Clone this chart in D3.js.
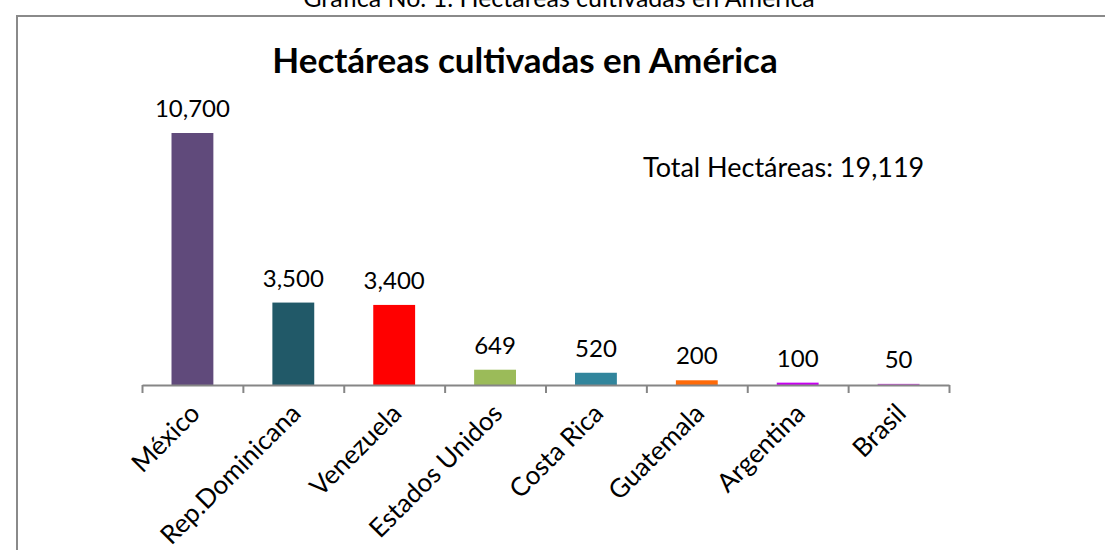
<!DOCTYPE html>
<html>
<head>
<meta charset="utf-8">
<script src="https://cdn.jsdelivr.net/npm/d3@7"></script>
<style>
  body { margin: 0; background: #fff; }
  svg { display: block; }
</style>
</head>
<body>
<div id="chart"></div>
<script>
// data
var paises = ["México", "Rep.Dominicana", "Venezuela", "Estados Unidos", "Costa Rica", "Guatemala", "Argentina", "Brasil"];
var hectareas = [10700, 3500, 3400, 649, 520, 200, 100, 50];
var colores = ["#604a7b", "#215968", "#ff0000", "#9bbb59", "#31859c", "#ff6a08", "#c800f0", "#cc55dd"];
var totalTexto = "Total Hectáreas: 19,119";

var W = 1105, H = 550;
var axisY = 385, left = 142, right = 949;

var svg = d3.select("#chart").append("svg")
    .attr("width", W)
    .attr("height", H);

// caption above the frame (cut off at the top, as in the source)
svg.append("text")
    .attr("x", 559)
    .attr("y", 7)
    .attr("text-anchor", "middle")
    .style("font-family", "Lato, sans-serif")
    .style("font-size", "25px")
    .text("Gráfica No. 1. Hectáreas cultivadas en América");

// chart frame
svg.append("rect")
    .attr("x", 17)
    .attr("y", 16)
    .attr("width", W + 20)
    .attr("height", H + 20)
    .attr("fill", "none")
    .attr("stroke", "#8a8a8a")
    .attr("stroke-width", 2);

var x = d3.scaleBand()
    .domain(paises)
    .range([left, right]);

var y = d3.scaleLinear()
    .domain([0, 12000])
    .range([axisY, axisY - 252 / 10700 * 12000]);

var barW = x.bandwidth() * 0.415;

// title
svg.append("text")
    .attr("x", 525)
    .attr("y", 73)
    .attr("text-anchor", "middle")
    .style("font-family", "Lato, sans-serif")
    .style("font-weight", "bold")
    .style("font-size", "35px")
    .text("Hectáreas cultivadas en América");

svg.append("text")
    .attr("x", 643)
    .attr("y", 177)
    .style("font-family", "Lato, sans-serif")
    .style("font-size", "27px")
    .text(totalTexto);

// bars
svg.append("g")
  .selectAll("rect")
  .data(paises)
  .enter()
  .append("rect")
    .attr("x", function(d) { return x(d) + (x.bandwidth() - barW) / 2; })
    .attr("width", barW)
    .attr("y", function(d, i) { return y(hectareas[i]); })
    .attr("height", function(d, i) { return axisY - y(hectareas[i]); })
    .attr("fill", function(d, i) { return colores[i]; });

// value labels
svg.append("g")
  .selectAll("text")
  .data(paises)
  .enter()
  .append("text")
    .attr("x", function(d) { return x(d) + x.bandwidth() / 2; })
    .attr("y", function(d, i) { return y(hectareas[i]) - 16; })
    .attr("text-anchor", "middle")
    .style("font-family", "Lato, sans-serif")
    .style("font-size", "24px")
    .text(function(d, i) { return d3.format(",")(hectareas[i]); });

// axis: ticks on the band edges
var edges = d3.scaleLinear().domain([0, paises.length]).range([left, right]);
var axis = svg.append("g")
    .attr("transform", "translate(0," + axisY + ")")
    .call(d3.axisBottom(edges).ticks(paises.length).tickSize(8).tickFormat("").tickSizeOuter(0));
axis.select(".domain").attr("stroke", "#868686").attr("stroke-width", 2);
axis.selectAll(".tick line").attr("stroke", "#868686").attr("stroke-width", 2);

// category labels, rotated
svg.append("g")
  .selectAll("text")
  .data(paises)
  .enter()
  .append("text")
    .attr("text-anchor", "end")
    .attr("transform", function(d) {
      return "translate(" + (x(d) + x.bandwidth() / 2 + 9) + "," + (axisY + 30) + ") rotate(-45)";
    })
    .style("font-family", "Lato, sans-serif")
    .style("font-size", "26px")
    .text(function(d) { return d; });
</script>
</body>
</html>
